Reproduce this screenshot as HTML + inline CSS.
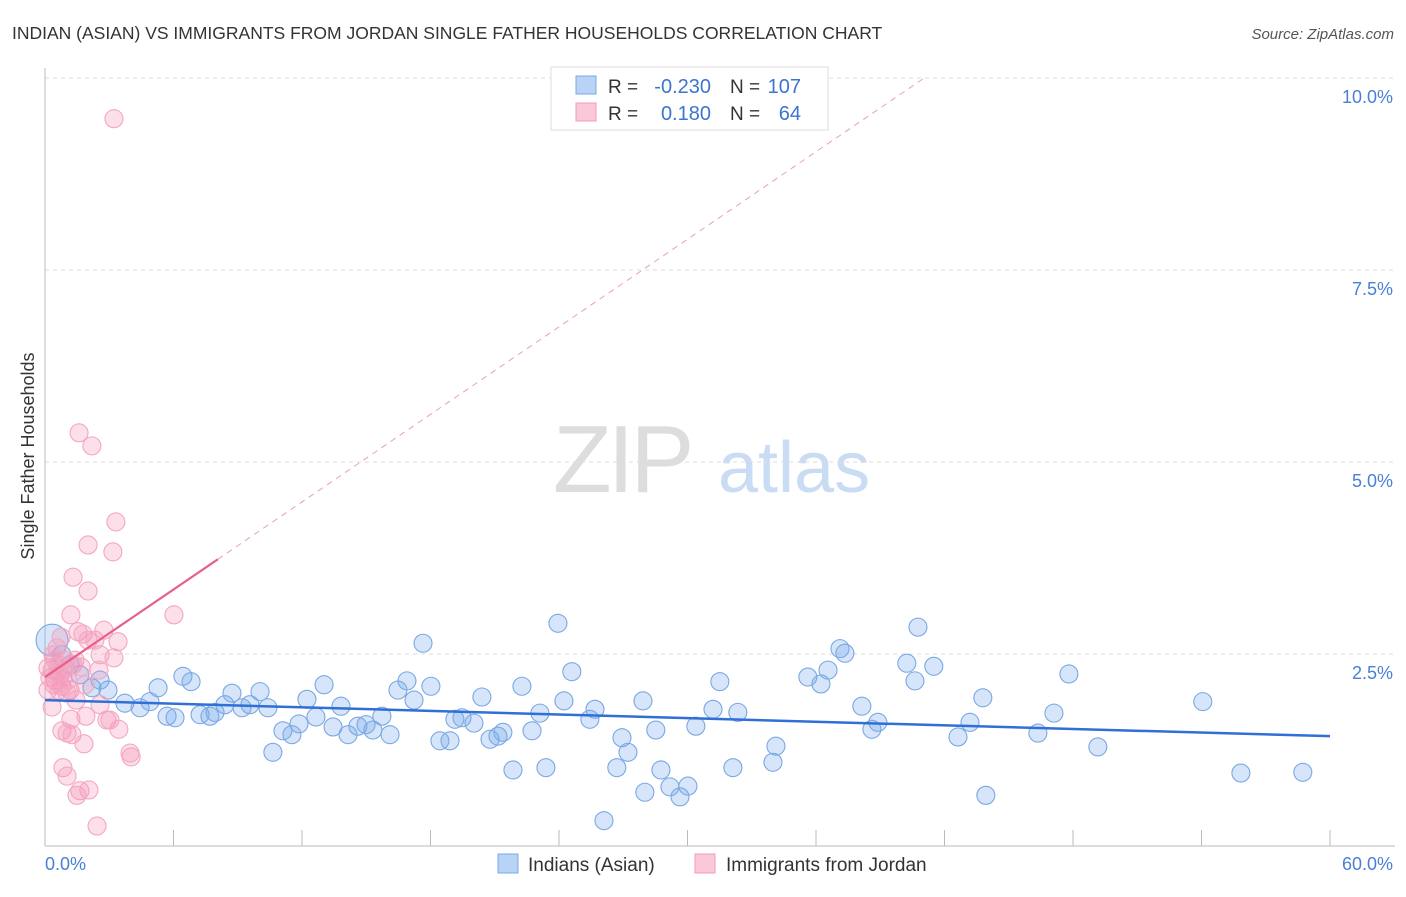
<!DOCTYPE html>
<html><head><meta charset="utf-8"><style>
body{margin:0;background:#fff;font-family:"Liberation Sans",sans-serif}
svg text{font-family:"Liberation Sans",sans-serif}
</style></head><body>
<svg id="chart" width="1406" height="892" viewBox="0 0 1406 892" xmlns="http://www.w3.org/2000/svg">
<text x="12" y="39" font-size="17.5" fill="#333">INDIAN (ASIAN) VS IMMIGRANTS FROM JORDAN SINGLE FATHER HOUSEHOLDS CORRELATION CHART</text>
<text x="1394" y="39" font-size="15" fill="#555" text-anchor="end" font-style="italic">Source: ZipAtlas.com</text>
<g>
<text x="553" y="492" font-size="96" fill="#ddd" font-family="Liberation Serif" letter-spacing="-4">ZIP</text>
<text x="718" y="492" font-size="72" fill="#c9dcf3">atlas</text>
</g>
<g id="grid"></g>
<g id="axes"></g>
<g id="lines"></g>
<g id="pts"></g>
<text transform="translate(34,456) rotate(-90)" font-size="18" fill="#333" text-anchor="middle">Single Father Households</text>
<g>
<rect x="551" y="67" width="277" height="63" fill="#fff" stroke="#ddd"/>
<rect x="576" y="76" width="20" height="18" fill="#b8d3f5" stroke="#7aa8e3"/>
<rect x="576" y="103" width="20" height="18" fill="#fbc8d8" stroke="#f19cb8"/>
<text x="608" y="93" font-size="19" fill="#333">R =</text>
<text x="711" y="93" font-size="20" fill="#3b74d1" text-anchor="end">-0.230</text>
<text x="730" y="93" font-size="19" fill="#333">N =</text>
<text x="801" y="93" font-size="20" fill="#3b74d1" text-anchor="end">107</text>
<text x="608" y="120" font-size="19" fill="#333">R =</text>
<text x="711" y="120" font-size="20" fill="#3b74d1" text-anchor="end">0.180</text>
<text x="730" y="120" font-size="19" fill="#333">N =</text>
<text x="801" y="120" font-size="20" fill="#3b74d1" text-anchor="end">64</text>
</g>
<g>
<rect x="498" y="854" width="20" height="19" fill="#b8d3f5" stroke="#7aa8e3"/>
<text x="528" y="871" font-size="19" fill="#333">Indians (Asian)</text>
<rect x="695" y="854" width="20" height="19" fill="#fbc8d8" stroke="#f19cb8"/>
<text x="726" y="871" font-size="19" fill="#333">Immigrants from Jordan</text>
</g>
</svg>
<script>
const yTicks=[2.5,5,7.5,10];
const yTickLabels=["2.5%","5.0%","7.5%","10.0%"];
const xTickLabels=["0.0%","60.0%"];
const blueX=[0.33,0.79,1.17,1.63,2.19,2.57,2.94,3.73,4.44,4.90,5.28,5.70,6.07,6.44,6.82,7.24,7.70,7.94,8.40,8.73,9.20,9.57,10.04,10.41,10.64,11.11,11.53,11.86,12.23,12.65,13.03,13.45,13.82,14.15,14.61,14.99,15.31,15.73,16.11,16.48,16.90,17.23,17.65,18.02,18.44,18.91,19.14,19.47,20.03,20.40,20.78,21.15,21.38,21.85,22.27,22.74,23.11,23.39,23.95,24.23,24.60,25.44,25.68,26.10,26.70,26.94,27.22,27.92,28.01,28.52,28.76,29.18,29.65,30.02,30.39,31.19,31.51,32.12,32.35,33.99,34.13,35.62,36.23,36.56,37.12,37.35,38.14,38.61,38.89,40.24,40.62,40.76,41.50,42.63,43.19,43.79,43.93,46.36,47.11,47.81,49.16,54.06,55.84,58.73];
const blueY=[2.68,2.49,2.36,2.23,2.06,2.16,2.03,1.86,1.80,1.88,2.06,1.69,1.67,2.21,2.14,1.71,1.69,1.74,1.84,1.99,1.80,1.84,2.01,1.80,1.22,1.50,1.45,1.59,1.91,1.68,2.10,1.55,1.82,1.45,1.56,1.58,1.51,1.69,1.45,2.03,2.15,1.90,2.64,2.08,1.37,1.37,1.65,1.67,1.60,1.94,1.39,1.43,1.48,0.99,2.08,1.50,1.73,1.02,2.90,1.89,2.27,1.65,1.78,0.33,1.02,1.41,1.22,1.89,0.70,1.51,0.99,0.77,0.64,0.78,1.56,1.78,2.14,1.02,1.74,1.09,1.30,2.20,2.11,2.29,2.57,2.51,1.82,1.52,1.61,2.38,2.15,2.85,2.34,1.42,1.61,1.93,0.66,1.47,1.73,2.24,1.29,1.88,0.95,0.96];
const pinkX=[3.22,1.59,2.19,3.31,2.01,3.17,1.31,2.01,1.21,6.02,0.75,1.54,1.77,2.01,3.41,0.56,0.93,1.31,2.57,3.22,0.33,0.70,0.93,0.47,0.79,1.17,0.14,0.23,2.52,1.87,1.03,1.45,0.33,1.21,1.91,2.89,3.45,0.79,1.03,1.26,1.82,4.02,3.97,0.84,1.03,1.63,2.05,1.49,2.43,0.47,0.61,0.14,3.03,0.37,0.56,0.84,0.42,0.65,1.07,1.40,1.68,2.33,2.75,2.57];
const pinkY=[9.47,5.38,5.21,4.22,3.92,3.83,3.50,3.32,3.01,3.01,2.72,2.79,2.76,2.68,2.66,2.58,2.42,2.36,2.49,2.45,2.29,2.23,2.32,2.16,2.08,2.03,2.32,2.19,2.29,2.10,1.99,1.90,1.81,1.65,1.69,1.64,1.52,1.50,1.47,1.45,1.33,1.16,1.21,1.02,0.91,0.72,0.73,0.66,0.26,2.42,2.36,2.03,1.64,2.49,2.27,2.19,2.10,2.03,2.16,2.42,2.33,2.68,2.81,1.84];
const blueTrend=[1.90,1.43];
const pinkTrend=[2.2,0.19];
const NS="http://www.w3.org/2000/svg";
const X=v=>45+v*(1285/60), Y=v=>846-v*76.8;
function mk(t,a,p){const e=document.createElementNS(NS,t);for(const k in a)e.setAttribute(k,a[k]);document.getElementById(p).appendChild(e);return e;}
yTicks.forEach((t,i)=>{
 const g=mk('line',{x1:45,x2:1395,y1:Y(t),y2:Y(t),stroke:'#ddd','stroke-dasharray':'4,4'},'grid');
 
 
 const l=mk('text',{x:1393,y:Y(t)+25,'font-size':18,fill:'#4a7fd6','text-anchor':'end'},'axes');
 l.textContent=yTickLabels[i];
 
 
});
mk('line',{x1:45,x2:45,y1:68,y2:846,stroke:'#bbb'},'axes');
mk('line',{x1:45,x2:1395,y1:846,y2:846,stroke:'#bbb'},'axes');
for(let i=0;i<=10;i++){const t=mk('line',{x1:X(i*6),x2:X(i*6),y1:830,y2:846,stroke:'#bbb'},'axes');
 
 }
const xl0=mk('text',{x:45,y:870,'font-size':18,fill:'#4a7fd6'},'axes');xl0.textContent=xTickLabels[0];


const xl1=mk('text',{x:1393,y:870,'font-size':18,fill:'#4a7fd6','text-anchor':'end'},'axes');xl1.textContent=xTickLabels[1];


blueX.forEach((x,i)=>{const c=mk('circle',{cx:X(x),cy:Y(blueY[i]),r:i==0?16:9,fill:'rgba(120,170,235,0.3)',stroke:'#7aa8e3','stroke-width':1.1},'pts');
 
 });
pinkX.forEach((x,i)=>{const c=mk('circle',{cx:X(x),cy:Y(pinkY[i]),r:9,fill:'rgba(244,150,185,0.3)',stroke:'#f2a8c0','stroke-width':1.1},'pts');
 
 });
const bl=mk('line',{x1:X(0),y1:Y(blueTrend[0]),x2:X(60),y2:Y(blueTrend[1]),stroke:'#2f6fd6','stroke-width':2.5},'pts');


const xe=(10-pinkTrend[0])/pinkTrend[1];
const pd=mk('line',{x1:X(8.07),y1:Y(pinkTrend[0]+pinkTrend[1]*8.07),x2:X(xe),y2:Y(10),stroke:'#e8a0b8','stroke-width':1,'stroke-dasharray':'6,5'},'lines');


const ps=mk('line',{x1:X(0),y1:Y(pinkTrend[0]),x2:X(8.07),y2:Y(pinkTrend[0]+pinkTrend[1]*8.07),stroke:'#e8608c','stroke-width':2.2},'pts');


</script>
</body></html>
